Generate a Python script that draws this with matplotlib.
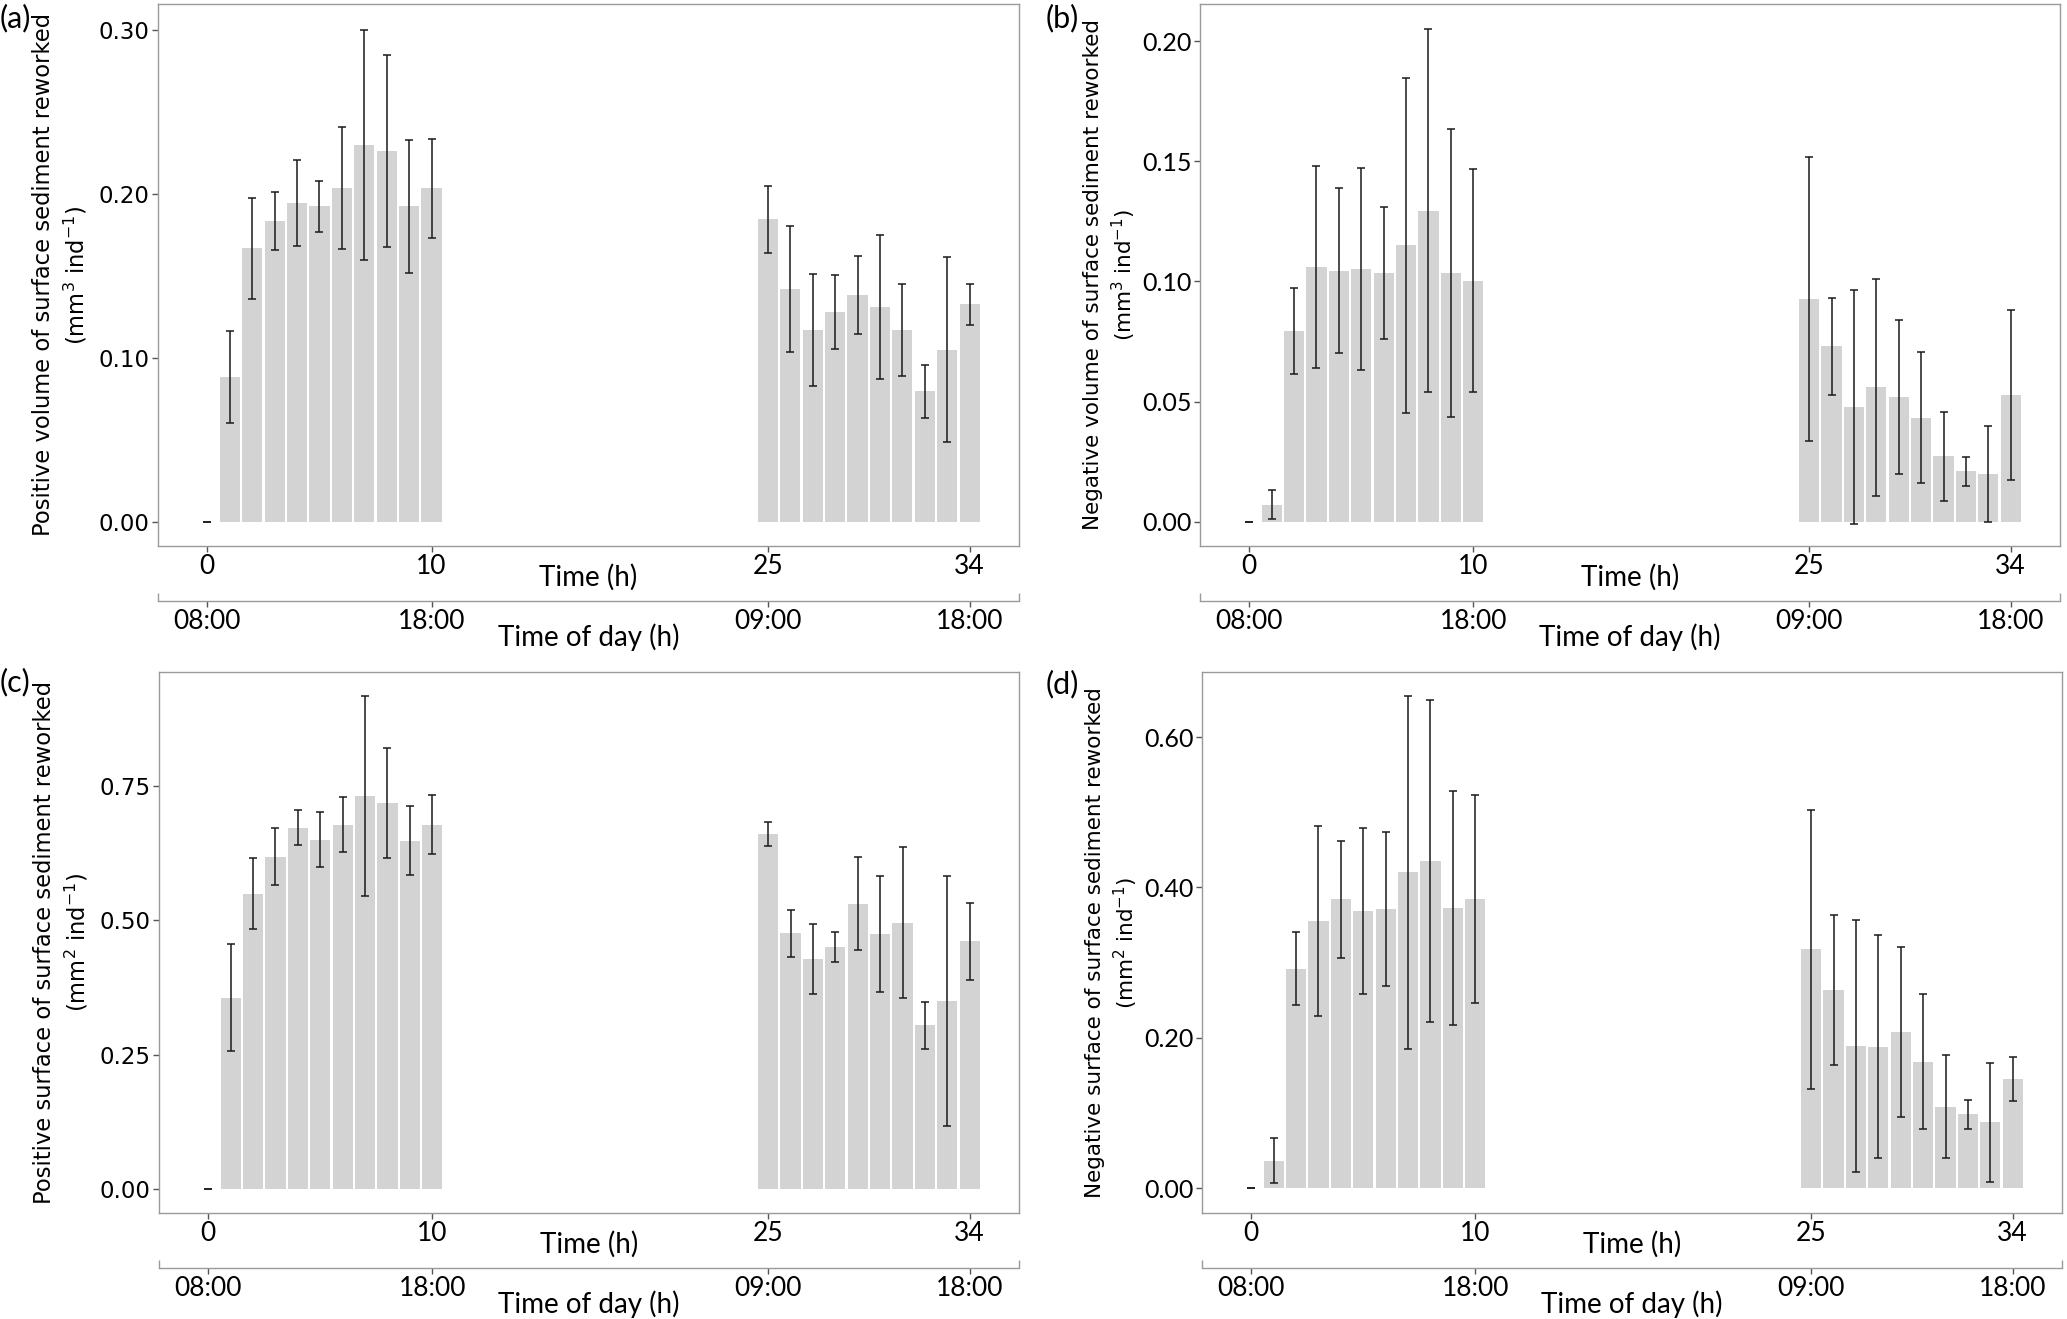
import numpy as np
import matplotlib
matplotlib.use("Agg")
import matplotlib.pyplot as plt

# time points (h) and time-of-day labels
hours = [0, 1, 2, 3, 4, 5, 6, 7, 8, 9, 10,
         25, 26, 27, 28, 29, 30, 31, 32, 33, 34]
hour_ticks = [0, 10, 25, 34]
hour_labels = ["0", "10", "25", "34"]
day_labels = ["08:00", "18:00", "09:00", "18:00"]

# (a) positive volume
pos_vol = [0, 0.0885, 0.1667, 0.1833, 0.1944, 0.1923, 0.2036, 0.2297, 0.2262, 0.1923, 0.2033,
           0.1845, 0.1422, 0.1171, 0.1281, 0.1383, 0.1311, 0.1171, 0.0796, 0.1050, 0.1326]
pos_vol_sd = [0, 0.0279, 0.0305, 0.0177, 0.0264, 0.0153, 0.0372, 0.0703, 0.0583, 0.0405, 0.0301,
              0.0204, 0.0384, 0.0339, 0.0226, 0.0238, 0.0438, 0.0278, 0.0163, 0.0563, 0.0124]

# (b) negative volume
neg_vol = [0, 0.0072, 0.0794, 0.1060, 0.1045, 0.1052, 0.1034, 0.1151, 0.1295, 0.1036, 0.1004,
           0.0926, 0.0731, 0.0478, 0.0560, 0.0518, 0.0434, 0.0273, 0.0210, 0.0201, 0.0528]
neg_vol_sd = [0, 0.0060, 0.0179, 0.0420, 0.0342, 0.0419, 0.0275, 0.0696, 0.0755, 0.0600, 0.0464,
              0.0590, 0.0201, 0.0486, 0.0452, 0.0320, 0.0274, 0.0186, 0.0062, 0.0200, 0.0354]

# (c) positive surface
pos_surf = [0, 0.3556, 0.5490, 0.6178, 0.6718, 0.6491, 0.6772, 0.7312, 0.7171, 0.6475, 0.6772,
            0.6600, 0.4750, 0.4280, 0.4498, 0.5304, 0.4740, 0.4950, 0.3042, 0.3488, 0.4603]
pos_surf_sd = [0, 0.0990, 0.0662, 0.0525, 0.0321, 0.0509, 0.0517, 0.1859, 0.1021, 0.0638, 0.0543,
               0.0225, 0.0430, 0.0654, 0.0282, 0.0865, 0.1072, 0.1404, 0.0437, 0.2324, 0.0710]

# (d) negative surface
neg_surf = [0, 0.0368, 0.2920, 0.3558, 0.3843, 0.3692, 0.3720, 0.4200, 0.4356, 0.3731, 0.3843,
            0.3179, 0.2632, 0.1891, 0.1880, 0.2080, 0.1684, 0.1082, 0.0982, 0.0876, 0.1456]
neg_surf_sd = [0, 0.0301, 0.0487, 0.1266, 0.0781, 0.1102, 0.1024, 0.2348, 0.2142, 0.1556, 0.1381,
               0.1855, 0.0996, 0.1673, 0.1484, 0.1130, 0.0895, 0.0686, 0.0193, 0.0787, 0.0293]

narrow = ["Lato", "DejaVu Sans"]
wide = ["DejaVu Sans"]
frame_col = "#9a9a9a"

W, H = 2067, 1319
fig = plt.figure(figsize=(W / 100, H / 100), dpi=100)


def px_axes(left, top, right, bottom):
    return fig.add_axes([left / W, 1 - bottom / H, (right - left) / W, (bottom - top) / H])


panels = [
    # box (px), values, sd, ylim, yticks, ylabel, tick font, label size, label x, tag, tag pos
    ((158, 4, 1019, 546), pos_vol, pos_vol_sd, (-0.0146, 0.3157), [0, 0.1, 0.2, 0.3],
     "Positive volume of surface sediment reworked\n(mm$^3$ ind$^{-1}$)", wide, 16.3, -0.080, "(a)", (0, 18)),
    ((1200, 4, 2060, 546), neg_vol, neg_vol_sd, (-0.0100, 0.2154), [0, 0.05, 0.10, 0.15, 0.20],
     "Negative volume of surface sediment reworked\n(mm$^3$ ind$^{-1}$)", narrow, 15.5, -0.072, "(b)", (1046, 18)),
    ((159, 672, 1019, 1213), pos_surf, pos_surf_sd, (-0.0446, 0.961), [0, 0.25, 0.50, 0.75],
     "Positive surface of surface sediment reworked\n(mm$^2$ ind$^{-1}$)", wide, 16.3, -0.080, "(c)", (0, 682)),
    ((1202, 672, 2062, 1213), neg_surf, neg_surf_sd, (-0.0329, 0.6866), [0, 0.20, 0.40, 0.60],
     "Negative surface of surface sediment reworked\n(mm$^2$ ind$^{-1}$)", narrow, 15.5, -0.072, "(d)", (1046, 684)),
]

for box, vals, sd, ylim, yticks, ylabel, yfont, ysize, labx, tag, tagpos in panels:
    ax = px_axes(*box)
    ax.bar(hours, vals, width=0.9, color="#d3d3d3", edgecolor="none", zorder=1)
    ax.errorbar(hours, vals, yerr=sd, fmt="none", ecolor="#1a1a1a", elinewidth=1.1,
                capsize=3, capthick=1.1, zorder=2)
    ax.set_xlim(-2.2, 36.2)
    ax.set_ylim(*ylim)
    for s in ax.spines.values():
        s.set_color(frame_col)
        s.set_linewidth(1.0)

    ax.set_yticks(yticks)
    ax.set_yticklabels([f"{v:.2f}" for v in yticks], family=yfont, fontsize=18 if yfont is narrow else 16.5)
    ax.set_xticks(hour_ticks)
    ax.set_xticklabels(hour_labels, family=narrow, fontsize=19)
    ax.tick_params(axis="both", direction="out", length=4, width=1, color="#555555", pad=2)

    ax.set_ylabel(ylabel, family=wide, fontsize=ysize, linespacing=1.3)
    ax.yaxis.set_label_coords(labx, 0.5)
    ax.set_xlabel("Time (h)", family=narrow, fontsize=20)
    ax.xaxis.set_label_coords(0.5, -0.033)

    # time of day axis
    sec = ax.secondary_xaxis(-0.1015)
    sec.spines["bottom"].set_color(frame_col)
    sec.spines["bottom"].set_linewidth(1.0)
    sec.set_xticks(hour_ticks)
    sec.set_xticklabels(day_labels, family=narrow, fontsize=19)
    sec.set_xticks([-2.2, 36.2], minor=True)
    sec.tick_params(which="major", direction="out", length=4, width=1, color="#555555", pad=2)
    sec.tick_params(which="minor", direction="in", length=6, width=1, color=frame_col)
    ax.text(0.5, -0.143, "Time of day (h)", transform=ax.transAxes, family=narrow,
            fontsize=20, ha="center", va="top")

    fig.text(tagpos[0] / W, 1 - tagpos[1] / H, tag, family=narrow, fontsize=22,
             ha="left", va="center")

fig.savefig("out.png", dpi=100)
plt.close(fig)
